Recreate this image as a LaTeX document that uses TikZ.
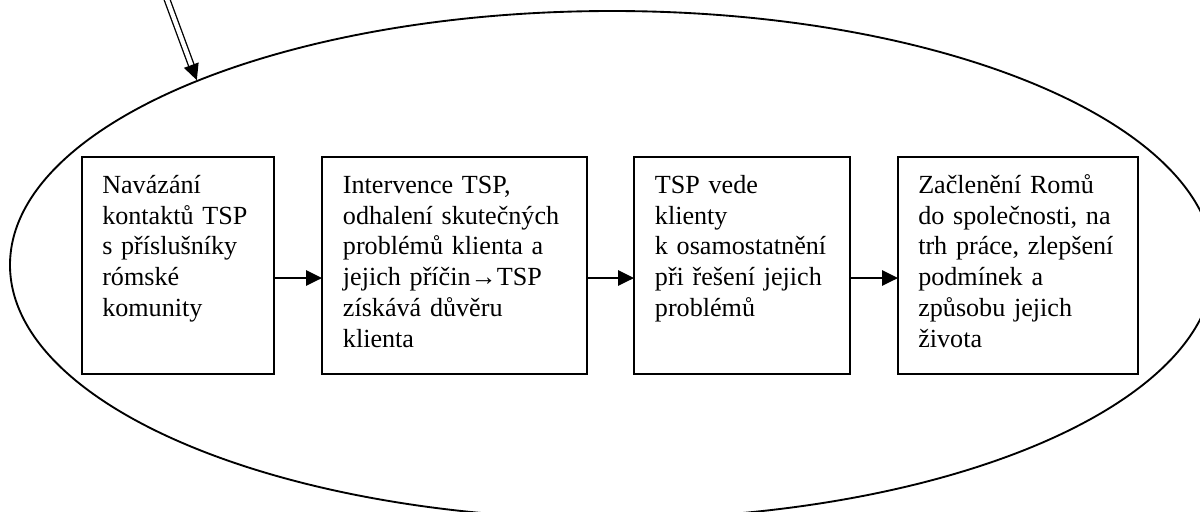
\documentclass[tikz,border=0pt]{standalone}
\usepackage{fontspec}
\setmainfont{Liberation Serif}
\usetikzlibrary{shapes.geometric,arrows.meta,calc}
\begin{document}
\begin{tikzpicture}[x=0.75pt,y=-0.75pt,
  box/.style={draw, line width=1.4pt, rectangle, minimum height=162.75pt, inner sep=0pt, outer sep=0pt},
  txt/.style={anchor=north west, inner sep=0pt, align=left, text width=#1, font=\fontsize{19.6}{23.1}\selectfont},
  conn/.style={line width=1.4pt, -{Triangle[length=12pt,width=11.5pt]}},
  dbl/.style={line width=1pt, double, double distance=3.2pt},
  head/.style={line width=1pt, -{Triangle[length=12pt,width=11.5pt]}}
]
\clip (0,0) rectangle (1200,511);
\node[draw, ellipse, line width=1.4pt, minimum width=903pt, minimum height=381pt, inner sep=0pt] (ell) at (612,265) {};

\node[box, minimum width=144pt] (b1) at (178,265.5) {};
\node[box, minimum width=198.75pt] (b2) at (454.5,265.5) {};
\node[box, minimum width=162pt] (b3) at (742,265.5) {};
\node[box, minimum width=180pt] (b4) at (1018,265.5) {};

\node[txt=140pt] (t1) at ([xshift=15pt,yshift=-7pt]b1.north west)
  {\rule{0pt}{20pt}Navázání\\kontaktů TSP\\s příslušníky\\rómské\\komunity};
\node[txt=190pt] (t2) at ([xshift=15.5pt,yshift=-7pt]b2.north west)
  {\rule{0pt}{20pt}Intervence TSP,\\odhalení skutečných\\problémů klienta a\\jejich příčin→TSP\\získává důvěru\\klienta};
\node[txt=160pt] (t3) at ([xshift=15.5pt,yshift=-7pt]b3.north west)
  {\rule{0pt}{20pt}TSP vede\\klienty\\k osamostatnění\\při řešení jejich\\problémů};
\node[txt=175pt] (t4) at ([xshift=15pt,yshift=-7pt]b4.north west)
  {\rule{0pt}{20pt}Začlenění Romů\\do společnosti, na\\trh práce, zlepšení\\podmínek a\\způsobu jejich\\života};

\draw[conn] ([yshift=-9.4pt]b1.east) -- ([yshift=-9.4pt]b2.west);
\draw[conn] ([yshift=-9.4pt]b2.east) -- ([yshift=-9.4pt]b3.west);
\draw[conn] ([yshift=-9.4pt]b3.east) -- ([yshift=-9.4pt]b4.west);

\coordinate (src) at (158,-25);
\draw[dbl, shorten >=10pt] (src) -- (ell.156);
\draw[head] ($(ell.156)!12pt!(src)$) -- (ell.156);
\end{tikzpicture}
\end{document}
